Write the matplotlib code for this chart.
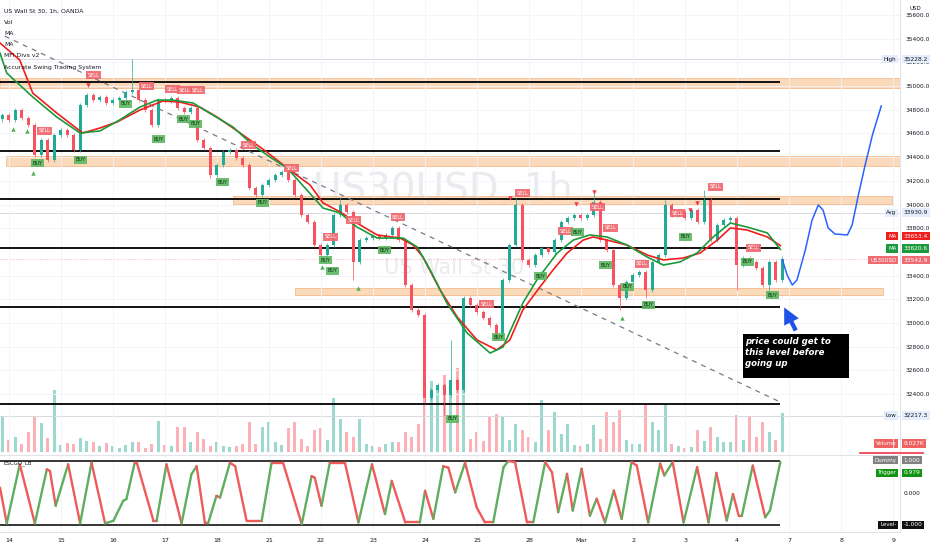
import numpy as np
import matplotlib.pyplot as plt
import matplotlib.transforms as mtrans
from matplotlib.collections import LineCollection
from matplotlib.patches import Rectangle
from matplotlib.lines import Line2D

# ---- data (x in trading days from "14", prices in USD) ----
day_labels = ['14', '15', '16', '17', '18', '21', '22', '23', '24', '25', '28', 'Mar',
              '2', '3', '4', '7', '8', '9']

first_open = 34720
closes = [34756, 34714, 34798, 34730, 34671, 34418, 34545, 34376, 34587, 34629,
          34587, 34460, 34840, 34925, 34882, 34908, 34857, 34882, 34899, 34950,
          34967, 34882, 34798, 34671, 34882, 34880, 34899, 34815, 34781, 34815,
          34545, 34477, 34249, 34334, 34443, 34460, 34393, 34334, 34139, 34080,
          34165, 34207, 34249, 34275, 34207, 34080, 33911, 33852, 33658, 33574,
          33658, 33911, 33996, 33937, 33515, 33700, 33717, 33734, 33717, 33743,
          33802, 33700, 33320, 33110, 33067, 32366, 32434, 32476, 32392, 32518,
          32434, 33211, 33152, 33093, 33042, 32983, 32873, 33363, 33658, 33996,
          33532, 33489, 33574, 33633, 33599, 33700, 33852, 33886, 33911, 33886,
          33911, 34021, 33700, 33616, 33320, 33211, 33346, 33405, 33430, 33278,
          33515, 33574, 33996, 33911, 33937, 33886, 33954, 33852, 34038, 33700,
          33827, 33869, 33886, 33489, 33548, 33515, 33464, 33320, 33515, 33363,
          33543]
high_spikes = {20: 35228, 52: 34063, 69: 32857, 79: 34055, 91: 34106, 102: 34038, 108: 34122}
low_spikes = {32: 34224, 54: 33363, 65: 32324, 68: 32217, 95: 33110, 99: 33211,
              113: 33278, 118: 33236}

volumes = [7.2, 2.5, 3.1, 1.6, 4.1, 7.2, 6.0, 2.9, 12.8, 1.4,
           1.9, 1.6, 2.9, 2.3, 2.1, 1.2, 1.9, 1.2, 0.8, 1.4,
           2.1, 2.1, 0.8, 1.6, 6.4, 1.4, 1.2, 5.1, 5.3, 2.1,
           4.1, 2.7, 1.2, 2.1, 1.2, 1.0, 1.2, 1.6, 6.2, 1.6,
           5.1, 6.2, 2.1, 1.4, 4.9, 6.2, 2.7, 1.2, 4.5, 4.9,
           2.5, 11.3, 6.8, 4.1, 3.1, 6.8, 1.6, 1.2, 1.0, 1.6,
           2.1, 2.1, 4.1, 3.1, 5.8, 16.5, 14.8, 13.6, 16.0, 14.4,
           17.5, 18.5, 2.7, 4.1, 2.3, 7.2, 7.8, 7.2, 2.5, 5.8,
           4.5, 3.1, 2.1, 10.7, 4.5, 8.2, 3.7, 5.8, 1.4, 1.2,
           1.6, 5.6, 2.7, 8.2, 6.2, 8.8, 2.5, 1.6, 1.6, 9.7,
           6.2, 4.5, 9.7, 1.6, 1.2, 0.8, 1.0, 4.5, 2.3, 5.1,
           3.1, 2.1, 2.1, 7.6, 2.5, 7.4, 3.1, 6.2, 4.1, 2.5,
           8.027]

ma_red_x = [-0.17, 0.21, 0.46, 0.92, 1.42, 1.75, 2.08, 2.52, 2.96, 3.29, 3.67, 4.00, 4.31,
            4.69, 4.96, 5.40, 5.79, 6.04, 6.37, 6.69, 7.08, 7.52, 7.77, 7.96, 8.29, 8.62,
            9.00, 9.38, 9.63, 9.88, 10.21, 10.46, 10.73, 11.04, 11.23, 11.50, 11.88, 12.27,
            12.58, 12.96, 13.29, 13.62, 13.87, 14.19, 14.58, 14.83]
ma_red = [35364, 35220, 34941, 34773, 34604, 34646, 34697, 34798, 34874, 34865, 34823,
          34739, 34646, 34528, 34443, 34291, 34165, 34013, 33937, 33844, 33743, 33717,
          33658, 33557, 33278, 33050, 32856, 32772, 32856, 33110, 33304, 33447, 33590,
          33700, 33726, 33700, 33658, 33574, 33532, 33548, 33591, 33700, 33802, 33785,
          33726, 33653]
ma_green_x = [-0.17, -0.04, 0.46, 0.92, 1.37, 1.75, 2.13, 2.52, 2.85, 3.15, 3.54, 3.92,
              4.31, 4.69, 5.02, 5.35, 5.73, 6.04, 6.37, 6.69, 7.08, 7.58, 7.85, 8.10, 8.42,
              8.81, 9.25, 9.50, 9.88, 10.15, 10.54, 10.85, 11.17, 11.50, 11.88, 12.27,
              12.58, 12.90, 13.23, 13.54, 13.87, 14.19, 14.58, 14.83]
ma_green = [35279, 35110, 34908, 34739, 34604, 34621, 34714, 34823, 34882, 34882, 34857,
            34756, 34654, 34502, 34401, 34308, 34122, 33970, 33928, 33810, 33717, 33717,
            33641, 33447, 33168, 32915, 32746, 32797, 33168, 33363, 33590, 33700, 33743,
            33726, 33658, 33557, 33489, 33515, 33591, 33726, 33844, 33810, 33760, 33621]

osc_x = [-0.17, -0.04, 0.21, 0.50, 0.73, 0.79, 0.90, 1.14, 1.37, 1.59, 1.85, 2.01, 2.20,
         2.26, 2.42, 2.46, 2.78, 2.84, 3.03, 3.32, 3.51, 3.61, 3.77, 3.83, 3.99, 4.06,
         4.25, 4.35, 4.57, 4.76, 4.86, 5.05, 5.27, 5.63, 5.82, 5.88, 6.01, 6.17, 6.46,
         6.72, 6.98, 7.23, 7.36, 7.62, 7.90, 8.00, 8.16, 8.35, 8.45, 8.58, 8.77, 8.99,
         9.15, 9.31, 9.51, 9.60, 9.73, 9.96, 10.08, 10.31, 10.44, 10.56, 10.73, 10.84,
         11.01, 11.17, 11.30, 11.46, 11.63, 11.78, 11.97, 12.07, 12.29, 12.52, 12.60,
         12.76, 12.97, 13.23, 13.45, 13.60, 13.80, 13.92, 14.03, 14.09, 14.30, 14.54,
         14.63, 14.83]
osc_v = [0.17, -0.95, 0.90, -0.95, 0.74, 0.69, -0.40, 0.90, -0.95, 0.95, -0.95, -0.87,
         -0.24, -0.19, 0.95, 0.95, -0.87, -0.87, 0.90, -0.95, 0.59, 0.84, -0.95, -0.95,
         -0.09, -0.14, 0.95, 0.84, -0.87, -0.87, -0.87, 0.95, 0.95, -0.97, 0.53, 0.48,
         -0.40, 0.95, 0.95, -0.92, 0.90, -0.66, 0.38, -0.92, -0.92, 0.07, -0.81, 0.84,
         0.79, 0.02, 0.95, -0.44, -0.92, -0.92, 0.81, 1.0, 0.97, -0.92, -0.92, 0.97,
         0.65, -0.60, 0.60, -0.55, 0.76, -0.71, -0.18, -0.92, 0.08, -0.81, 0.97, 0.86,
         -0.92, 0.92, 0.55, 0.97, -0.92, 0.81, -0.92, 0.63, -0.86, -0.03, -0.71, -0.71,
         0.86, -0.76, -0.55, 0.97]

sr_levels = [35034, 34452, 34047, 33633, 33135, 32316]
zones = [(-0.17, 17.13, 34984, 35068), (-0.06, 17.13, 34325, 34410),
         (4.31, 16.98, 34004, 34072), (5.50, 16.81, 33236, 33295)]
trend_x = [-0.08, 14.83]
trend_y = [35422, 32332]
proj_x = [14.87, 14.96, 15.06, 15.15, 15.31, 15.44, 15.56, 15.65, 15.75, 15.88, 16.12,
          16.21, 16.33, 16.46, 16.60, 16.77]
proj_y = [33532, 33405, 33320, 33363, 33616, 33869, 33996, 33954, 33802, 33751, 33743,
          33827, 34080, 34334, 34587, 34832]

sell_x = [1.63, 2.65, 3.15, 3.38, 3.63, 0.69, 4.60, 5.44, 6.19, 6.62, 7.48, 9.19, 9.87,
          10.70, 11.31, 11.56, 12.17, 12.85, 13.58, 14.31]
sell_y = [35093, 35000, 34975, 34967, 34967, 34621, 34502, 34308, 33726, 33869, 33894,
          33160, 34097, 33776, 33979, 33802, 33498, 33928, 34148, 33633]
buy_x = [0.56, 1.38, 2.25, 2.87, 3.35, 3.58, 4.10, 4.88, 6.08, 6.23, 7.23, 8.52, 9.42,
         10.21, 10.93, 11.46, 11.90, 12.29, 13.00, 14.19, 14.67]
buy_y = [34350, 34376, 34849, 34553, 34722, 34680, 34190, 34013, 33531, 33439, 33616,
         32189, 32881, 33396, 33768, 33489, 33304, 33152, 33726, 33515, 33236]
up_tri_x = [0.08, 0.35, 0.46, 6.02, 6.71, 11.79]
up_tri_y = [34637, 34620, 34266, 33472, 33295, 33042]
dn_tri_x = [1.52, 9.63, 10.90, 11.25, 13.10, 13.23]
dn_tri_y = [35009, 34055, 34004, 34105, 33954, 34013]

price_high, price_avg, price_low = 35228.2, 33930.9, 32217.3
ma_red_last, ma_green_last, last_price = 33653.4, 33620.6, 33542.9

UP, DN = '#22ab94', '#f7525f'
TXT = '#131722'

fig = plt.figure(figsize=(9.32, 5.5), dpi=100)
ax = fig.add_axes([0, 95 / 550, 900 / 932, 455 / 550])
osc = fig.add_axes([0, 18 / 550, 900 / 932, 77 / 550])

# volume sits under the candles in the price pane
vax = ax.twinx()
vax.set_ylim(-0.6, 93.6)
vax.axis('off')
ax.set_zorder(vax.get_zorder() + 1)
ax.patch.set_visible(False)

ax.set_xlim(-0.17, 17.13)
vax.set_xlim(-0.17, 17.13)
ax.set_ylim(31885, 35727)
osc.set_xlim(-0.17, 17.13)
osc.set_ylim(-1.22, 1.19)

for a in (ax, osc):
    for s in ('left', 'top', 'bottom'):
        a.spines[s].set_visible(False)
    a.spines['right'].set_color('#e0e3eb')
    a.spines['right'].set_linewidth(0.8)
    a.set_xticks(range(len(day_labels)))
    a.grid(color='#f0f3fa', lw=0.6, zorder=0)
osc.spines['top'].set_visible(True)
osc.spines['top'].set_color('#e0e3eb')
osc.spines['bottom'].set_visible(True)
osc.spines['bottom'].set_color('#e0e3eb')

ax.yaxis.tick_right()
ax.yaxis.set_label_position('right')
yt = [p for p in range(32400, 35601, 200) if p != 33600]
ax.set_yticks(yt, [f'{p:.1f}' for p in yt])
ax.tick_params(axis='y', which='both', left=False, right=False, labelleft=False,
               labelright=True, length=0, pad=4, labelsize=4.2, labelcolor=TXT)
ax.tick_params(axis='x', length=0, labelbottom=False)
osc.set_yticks([-1, 0, 1], ['', '', ''])
osc.tick_params(axis='y', length=0, labelleft=False)
osc.set_xticks(range(len(day_labels)), day_labels)
osc.tick_params(axis='x', length=0, pad=4, labelsize=4.5, labelcolor=TXT)
osc.grid(axis='y', visible=False)

# watermark
ax.text(8.35, 34122, 'US30USD, 1h', fontsize=28, color='#e9ebef', ha='center', va='center', zorder=0)
ax.text(8.55, 33464, 'US Wall St 30', fontsize=15, color='#e9ebef', ha='center', va='center', zorder=0)

# zones and levels
for x0, x1, lo, hi in zones:
    ax.add_patch(Rectangle((x0, lo), x1 - x0, hi - lo, fc='#fbd3b0', ec='#f4b07a', lw=0.6,
                           alpha=0.85, zorder=1))
for p in (price_high, price_avg, price_low):
    ax.axhline(p, color='#d1d4dc', lw=0.6, zorder=1)
ax.axhline(last_price, color=DN, lw=0.6, ls=':', alpha=0.5, zorder=1)
ax.hlines(sr_levels, -0.17, 14.83, color='black', lw=1.3, zorder=3)
ax.plot(trend_x, trend_y, color='#787b86', lw=0.9, dashes=(4, 4), zorder=3)

# volume
n = len(closes)
xs = -0.13 + np.arange(n) / 8
opens = np.r_[first_open, closes[:-1]]
closes_a = np.array(closes)
up = closes_a >= opens
cols = np.where(up, UP, DN)
vax.bar(xs, volumes, width=0.055, color=cols, alpha=0.45, zorder=1)

# candles
hi = np.maximum(opens, closes_a) + 20
lo = np.minimum(opens, closes_a) - 20
for i, v in high_spikes.items():
    hi[i] = v
for i, v in low_spikes.items():
    lo[i] = v
ax.vlines(xs, lo, hi, colors=cols, lw=0.5, zorder=4)
ax.bar(xs, closes_a - opens, bottom=opens, width=0.055, color=cols, zorder=4)

# moving averages
ax.plot(ma_red_x, ma_red, color='#f01d1d', lw=1.2, zorder=5)
ax.plot(ma_green_x, ma_green, color='#1b9a3b', lw=1.2, zorder=5)

# signals
ax.scatter(up_tri_x, up_tri_y, marker='^', s=10, color='#4caf50', zorder=6, lw=0)
ax.scatter(dn_tri_x, dn_tri_y, marker='v', s=10, color='#f23645', zorder=6, lw=0)
for x, y in zip(sell_x, sell_y):
    ax.text(x, y, 'SELL', fontsize=3.6, color='white', ha='center', va='center', zorder=7,
            bbox=dict(boxstyle='square,pad=0.3', fc='#f0656c', ec='none', alpha=0.9))
for x, y in zip(buy_x, buy_y):
    ax.text(x, y, 'BUY', fontsize=3.6, color='#0d3312', ha='center', va='center', zorder=7,
            bbox=dict(boxstyle='square,pad=0.3', fc='#5cb860', ec='none', alpha=0.9))

# projection, arrow, note
ax.plot(proj_x, proj_y, color='#2962ff', lw=1.1, zorder=6)
ax.annotate('', xy=(14.88, 33152), xytext=(15.15, 32915),
            arrowprops=dict(arrowstyle='simple,head_width=1.3,head_length=1.3,tail_width=0.35',
                            mutation_scale=9, fc='#1f52e6', ec='none'), zorder=7)
ax.add_patch(Rectangle((14.12, 32535), 2.03, 372, fc='black', ec='none', zorder=7))
ax.text(14.16, 32885, 'price could get to\nthis level before\ngoing up', fontsize=6.2,
        fontstyle='italic', fontweight='bold', color='white', va='top', ha='left',
        linespacing=1.3, zorder=8)

# oscillator
pts = np.column_stack([osc_x, osc_v])
segs = np.stack([pts[:-1], pts[1:]], axis=1)
seg_cols = ['#5fae5f' if b > a else '#ef5a5a' for a, b in zip(osc_v[:-1], osc_v[1:])]
osc.add_collection(LineCollection(segs, colors=seg_cols, lw=1.7, capstyle='round',
                                  joinstyle='round', zorder=3))
osc.hlines([1, -1], -0.17, 14.83, color='black', lw=1.1, zorder=2)
osc.text(0.004, 0.88, 'ESCGO_LB', transform=osc.transAxes, fontsize=4, color=TXT)

# header legend
for k, t in enumerate(['US Wall St 30, 1h, OANDA', 'Vol', 'MA', 'MA', 'MFI Divs v2',
                       'Accurate Swing Trading System']):
    fig.text(4 / 932, 1 - (11 + k * 11.2) / 550, t, fontsize=4.4, color=TXT, va='center')
fig.text(915 / 932, 1 - 9 / 550, 'USD', fontsize=4, color=TXT, ha='center', va='center')


# right-hand scale tags
def tag(a, y, label, value, bg, fg='white', lbg=None, lfg=None):
    tr = mtrans.blended_transform_factory(a.transAxes, a.transData)
    if label:
        a.text(0.996, y, label, transform=tr, ha='right', va='center', fontsize=4,
               color=lfg or fg, clip_on=False, zorder=9,
               bbox=dict(boxstyle='square,pad=0.3', fc=lbg or bg, ec='none'))
    a.text(1.004, y, value, transform=tr, ha='left', va='center', fontsize=4.2, color=fg,
           clip_on=False, zorder=9, bbox=dict(boxstyle='square,pad=0.3', fc=bg, ec='none'))


tag(ax, price_high, 'High', f'{price_high:.1f}', '#e3edfb', fg=TXT)
tag(ax, price_avg, 'Avg', f'{price_avg:.1f}', '#e3edfb', fg=TXT)
tag(ax, price_low, 'Low', f'{price_low:.1f}', '#e3edfb', fg=TXT)
tag(ax, 33734, 'MA', f'{ma_red_last:.1f}', '#f01d1d')
tag(ax, 33630, 'MA', f'{ma_green_last:.1f}', '#1b9a3b')
tag(ax, 33530, 'US30USD', f'{last_price:.1f}', '#ef6b72')
tag(osc, 1.55, 'Volume', '8.027K', '#f06262')
tag(osc, 1.03, 'Dummy', '1.000', '#808080')
tag(osc, 0.63, 'Trigger', '0.979', '#129412')
tag(osc, 0.0, '', '0.000', 'white', fg=TXT)
tag(osc, -1.0, 'Level-', '-1.000', '#111111')
fig.add_artist(Line2D([860 / 932, 923 / 932], [1 - 453 / 550] * 2, color='#f23645', lw=1.2))

fig.savefig('out.png', dpi=100, facecolor='white')
